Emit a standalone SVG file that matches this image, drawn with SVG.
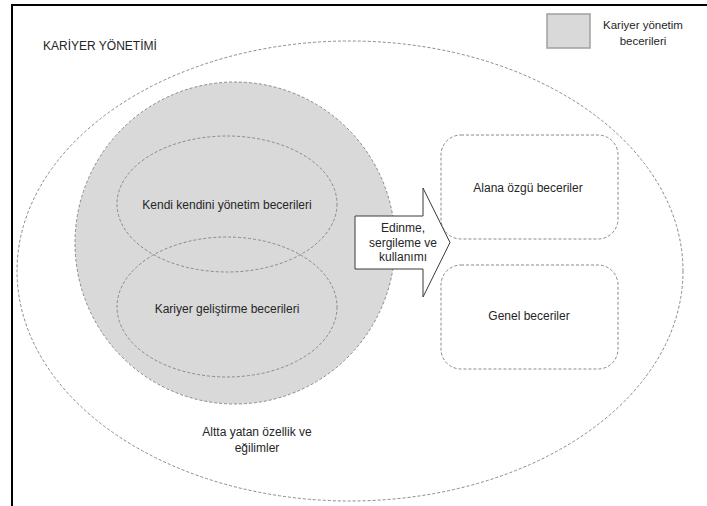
<svg xmlns="http://www.w3.org/2000/svg" width="707" height="506" viewBox="0 0 707 506">
<style>
.t{font-family:"Liberation Sans",Arial,sans-serif;font-size:12px;fill:#262626;text-anchor:middle}
.s{font-size:11.5px}
.d{fill:none;stroke:#8a8a8a;stroke-width:1;stroke-dasharray:3 2}
</style>
<rect width="707" height="506" fill="#fff"/>
<path d="M12,506 V5 H707" fill="none" stroke="#000" stroke-width="2"/>
<text class="t" x="43" y="50" style="text-anchor:start">KARİYER YÖNETİMİ</text>
<g id="legend">
<rect x="547" y="14" width="43" height="34" fill="#d9d9d9" stroke="#a0a0a0" stroke-width="1.5"/>
<text class="t s" x="643" y="29">Kariyer yönetim</text>
<text class="t s" x="643" y="45">becerileri</text>
</g>
<g id="outer">
<ellipse class="d" cx="350" cy="271" rx="333" ry="230"/>
<text class="t" x="257" y="436">Altta yatan özellik ve</text>
<text class="t" x="257" y="452">eğilimler</text>
</g>
<g id="skills">
<ellipse cx="235" cy="243" rx="160" ry="161" fill="#d9d9d9" stroke="#8a8a8a" stroke-dasharray="3 2"/>
</g>
<g id="self">
<ellipse class="d" cx="227" cy="204" rx="110" ry="68"/>
<text class="t" x="227" y="209">Kendi kendini yönetim becerileri</text>
</g>
<g id="career">
<ellipse class="d" cx="227" cy="307" rx="110" ry="70"/>
<text class="t" x="227" y="313">Kariyer geliştirme becerileri</text>
</g>
<g id="specific">
<rect class="d" x="441" y="135" width="177" height="104" rx="20"/>
<text class="t" x="528" y="192">Alana özgü beceriler</text>
</g>
<g id="general">
<rect class="d" x="441" y="265" width="177" height="104" rx="20"/>
<text class="t" x="529" y="320">Genel beceriler</text>
</g>
<g id="connectors">
<path d="M355,216 H423 V188 L450,242.5 L423,297 V269 H355 Z" fill="#fff" stroke="#3a3a3a" stroke-width="1"/>
<text class="t" x="403" y="232">Edinme,</text>
<text class="t" x="403" y="246.5">sergileme ve</text>
<text class="t" x="403" y="261">kullanımı</text>
</g>
</svg>
